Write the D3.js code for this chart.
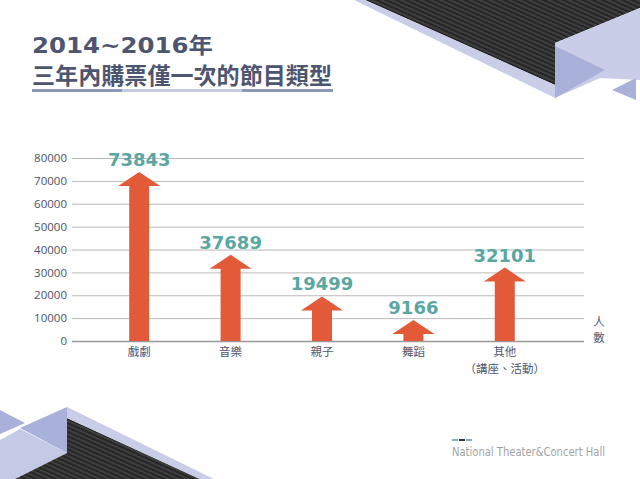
<!DOCTYPE html>
<html>
<head>
<meta charset="utf-8">
<script src="https://cdn.jsdelivr.net/npm/d3@7"></script>
<style>
  html, body { margin: 0; padding: 0; background: #fff; }
  svg { display: block; }
</style>
</head>
<body>
<div id="chart"></div>
<script>
// data
const categories = ["戲劇", "音樂", "親子", "舞蹈", "其他"];
const subLabels = ["", "", "", "", "（講座、活動）"];
const values = [73843, 37689, 19499, 9166, 32101];
const yTicks = [0, 10000, 20000, 30000, 40000, 50000, 60000, 70000, 80000];
const titleLines = ["2014~2016年", "三年內購票僅一次的節目類型"];
const unitLabel = ["人", "數"];
const footerText = "National Theater&Concert Hall";

const width = 640;
const height = 479;

const svg = d3
  .select("#chart")
  .append("svg")
  .attr("width", width)
  .attr("height", height);

// stripe pattern for the dark slabs
const defs = svg.append("defs");
const pat = defs
  .append("pattern")
  .attr("id", "stripe")
  .attr("patternUnits", "userSpaceOnUse")
  .attr("width", 6)
  .attr("height", 4)
  .attr("patternTransform", "rotate(24)");
pat.append("rect").attr("width", 6).attr("height", 4).attr("fill", "#262626");
pat
  .append("line")
  .attr("x1", 0)
  .attr("x2", 6)
  .attr("y1", 1)
  .attr("y2", 1)
  .attr("stroke", "#4a4a4a")
  .attr("stroke-width", 1.4);

// decorations (background shapes)
const deco = svg.append("g");
const poly = (pts, fill) =>
  deco
    .append("polygon")
    .attr("points", pts.map((p) => p.join(",")).join(" "))
    .attr("fill", fill);

// top right
poly([[365, 0], [640, 0], [640, 8], [555, 43], [555, 85]], "url(#stripe)");
poly([[354, 0], [365, 0], [555, 85], [555, 98]], "#c9cde8");
poly([[555, 43], [640, 8], [640, 80], [600, 78], [555, 98]], "#c9cde8");
poly([[555, 46], [555, 98], [605, 70]], "#a9b0d9");
poly([[612, 90], [636, 78], [636, 100]], "#a9b0d9");

// bottom left
poly([[0, 410], [25, 423], [0, 434]], "#a9b0d9");
poly([[0, 440], [20, 429], [67, 453], [15, 479], [0, 479]], "#c4c9e6");
poly([[20, 428], [67, 407], [67, 453]], "#a9b0d9");
poly([[67, 418], [200, 479], [15, 479], [67, 453]], "url(#stripe)");
poly([[67, 407], [214, 479], [200, 479], [67, 418]], "#c9cde8");

// title
const titleColor = "#4e5570";
svg
  .append("text")
  .attr("x", 32)
  .attr("y", 53)
  .attr("fill", titleColor)
  .attr("font-family", "'DejaVu Sans', 'Noto Sans CJK TC', sans-serif")
  .attr("font-weight", "bold")
  .attr("font-size", 22)
  .attr("textLength", 181)
  .attr("lengthAdjust", "spacingAndGlyphs")
  .text(titleLines[0]);

svg
  .append("text")
  .attr("x", 32)
  .attr("y", 84)
  .attr("fill", titleColor)
  .attr("font-family", "'Noto Sans CJK TC', sans-serif")
  .attr("font-weight", "bold")
  .attr("font-size", 23)
  .attr("textLength", 300)
  .attr("lengthAdjust", "spacingAndGlyphs")
  .text(titleLines[1]);

// underline
svg.append("rect").attr("x", 32).attr("y", 89).attr("width", 301).attr("height", 3).attr("fill", "#c6cadf");
svg.append("rect").attr("x", 32).attr("y", 89).attr("width", 90).attr("height", 3).attr("fill", "#8f96b8");
svg.append("rect").attr("x", 242).attr("y", 89).attr("width", 91).attr("height", 3).attr("fill", "#8f96b8");

// scales
const gridLeft = 72;
const gridRight = 584;

const y = d3.scaleLinear().domain([0, 80000]).range([341, 158]);

const x = d3
  .scaleBand()
  .domain(categories)
  .range([93.5, 550.5])
  .padding(0);

// y axis: gridlines + labels
const yAxis = svg
  .append("g")
  .attr("transform", `translate(${gridLeft},0)`)
  .call(
    d3
      .axisRight(y)
      .tickValues(yTicks)
      .tickSize(gridRight - gridLeft)
      .tickFormat(d3.format("d"))
  );

yAxis.select(".domain").remove();
yAxis
  .selectAll(".tick line")
  .attr("stroke", (d) => (d === 0 ? "#999" : "#b8b8b8"))
  .attr("stroke-width", (d) => (d === 0 ? 1.5 : 1));
yAxis
  .selectAll(".tick text")
  .attr("x", -5)
  .attr("text-anchor", "end")
  .attr("fill", "#4d5166")
  .attr("font-family", "'Open Sans', sans-serif")
  .attr("font-size", 11.5);

// arrows
const shaftW = 20;
const headW = 42;
const headH = 14;
const arrowColor = "#e35a39";

const bars = svg
  .append("g")
  .selectAll("g")
  .data(categories)
  .join("g");

bars
  .append("path")
  .attr("fill", arrowColor)
  .attr("d", (d, i) => {
    const cx = x(d) + x.bandwidth() / 2;
    const top = y(values[i]);
    const base = y(0);
    const neck = top + headH;
    return d3.line()([
      [cx, top],
      [cx + headW / 2, neck],
      [cx + shaftW / 2, neck],
      [cx + shaftW / 2, base],
      [cx - shaftW / 2, base],
      [cx - shaftW / 2, neck],
      [cx - headW / 2, neck],
    ]) + "Z";
  });

// value labels
bars
  .append("text")
  .attr("x", (d) => x(d) + x.bandwidth() / 2)
  .attr("y", (d, i) => y(values[i]) - 6)
  .attr("text-anchor", "middle")
  .attr("fill", "#5aa7a2")
  .attr("font-family", "'DejaVu Sans', sans-serif")
  .attr("font-weight", "bold")
  .attr("font-size", 18)
  .text((d, i) => values[i]);

// category labels
bars
  .append("text")
  .attr("x", (d) => x(d) + x.bandwidth() / 2)
  .attr("y", 356)
  .attr("text-anchor", "middle")
  .attr("fill", titleColor)
  .attr("font-family", "'Noto Sans CJK TC', sans-serif")
  .attr("font-size", 11.5)
  .text((d) => d);

bars
  .append("text")
  .attr("x", (d) => x(d) + x.bandwidth() / 2)
  .attr("y", 373)
  .attr("text-anchor", "middle")
  .attr("fill", titleColor)
  .attr("font-family", "'Noto Sans CJK TC', sans-serif")
  .attr("font-size", 11.5)
  .text((d, i) => subLabels[i]);

// unit label (vertical)
svg
  .append("g")
  .selectAll("text")
  .data(unitLabel)
  .join("text")
  .attr("x", 599)
  .attr("y", (d, i) => 326 + i * 16)
  .attr("text-anchor", "middle")
  .attr("fill", titleColor)
  .attr("font-family", "'Noto Sans CJK TC', sans-serif")
  .attr("font-size", 11.5)
  .text((d) => d);

// footer logo
const dashColors = ["#7fb0c2", "#333", "#7fb0c2"];
svg
  .append("g")
  .selectAll("rect")
  .data(dashColors)
  .join("rect")
  .attr("x", (d, i) => 452 + i * 7)
  .attr("y", 439)
  .attr("width", 6)
  .attr("height", 2)
  .attr("fill", (d) => d);

svg
  .append("text")
  .attr("x", 452)
  .attr("y", 456)
  .attr("fill", "#a3a3a3")
  .attr("font-family", "'DejaVu Sans Condensed', 'DejaVu Sans', sans-serif")
  .attr("font-size", 12)
  .attr("textLength", 153)
  .attr("lengthAdjust", "spacingAndGlyphs")
  .text(footerText);
</script>
</body>
</html>
